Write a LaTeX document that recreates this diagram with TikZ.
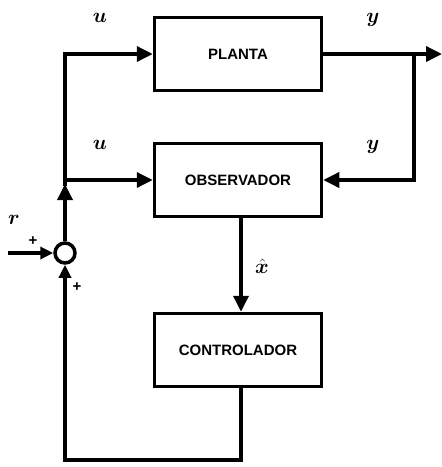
\documentclass[tikz,border=0pt]{standalone}
\usepackage{fontspec}
\setsansfont{Liberation Sans}
\usepackage{amsmath}
\usepackage{bm}
\usetikzlibrary{
    arrows.meta,
    positioning,
    calc,
}

\begin{document}
\begin{tikzpicture}[
        x=1pt, y=-1pt,
        block/.style={draw=black, line width=3.5pt, minimum width=167pt, minimum height=73pt, inner sep=0pt,
            font=\sffamily\bfseries\fontsize{15}{17}\selectfont},
        sum/.style={circle, draw=black, line width=3.5pt, minimum size=20pt, inner sep=0pt},
        signal/.style={line width=3.5pt, -{Triangle[length=16pt, width=15pt]}},
        small-signal/.style={line width=3.5pt, -{Triangle[length=13pt, width=12pt]}},
        label/.style={font=\fontsize{20}{22}\selectfont},
        sign/.style={font=\sffamily\bfseries\fontsize{15}{17}\selectfont},
    ]
        \useasboundingbox (0,0) rectangle (442,467);

        % Blocks
        \node[block] (planta) at (238, 54) {PLANTA};
        \node[block] (obs) at (238, 180) {OBSERVADOR};
        \node[block] (ctrl) at (238, 350) {CONTROLADOR};

        % Summing junction
        \node[sum] (sum) at (65, 253) {};

        % Auxiliary points
        \coordinate (J) at (65, 180);
        \coordinate (r-in) at (8, 253);
        \coordinate (y-out) at (442, 54);
        \coordinate (y-branch) at (414, 54);
        \coordinate (fb) at (65, 460);

        % Control signal
        \draw[signal] (sum.north) -- ([yshift=-4pt]J);
        \draw[line width=3.5pt] ([yshift=-6pt]J) -- (J);
        \draw[signal] (J) |- (planta.west);
        \draw[signal] (J) -- (obs.west);

        % Output and measurement
        \draw[signal] (planta.east) -- (y-out);
        \draw[signal] (y-branch) |- (obs.east);

        % Estimated state
        \draw[signal] ([xshift=3pt]obs.south) -- ([xshift=3pt]ctrl.north);

        % Feedback
        \draw[small-signal] ([xshift=3pt]ctrl.south) |- (fb) -- (sum.south);

        % Reference
        \draw[small-signal] (r-in) -- (sum.west);

        % Labels
        \node[label] (u1) at (100, 18) {$\bm{u}$};
        \node[label] (u2) at (100, 145) {$\bm{u}$};
        \node[label] (y1) at (373, 20) {$\bm{y}$};
        \node[label] (y2) at (373, 147) {$\bm{y}$};
        \node[label] (xh) at (262, 266) {$\bm{\hat{x}}$};
        \node[label] (r) at (14, 220) {$\bm{r}$};
        \node[sign] (p1) at (33, 241) {+};
        \node[sign] (p2) at (77, 287) {+};
    \end{tikzpicture}
\end{document}
